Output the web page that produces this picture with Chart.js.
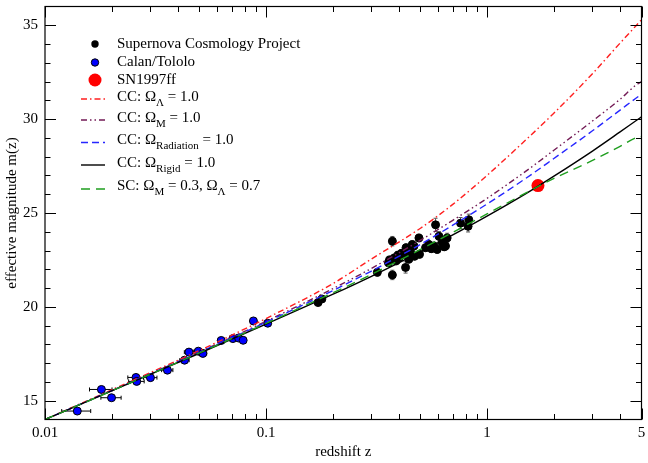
<!DOCTYPE html>
<html>
<head>
<meta charset="utf-8">
<script src="https://cdn.jsdelivr.net/npm/chart.js@4.4.0/dist/chart.umd.min.js"></script>
<style>
  html, body { margin: 0; padding: 0; background: #fff; }
</style>
</head>
<body>
<canvas id="chart" width="648" height="463"></canvas>
<script>
// redshift sampling of the model curves
const curveZ = [0.01, 0.02, 0.05, 0.1, 0.2, 0.3, 0.5, 0.7, 1, 1.5, 2, 3, 4, 4.7, 5];
const ccLambda = [14.0, 15.58, 17.68, 19.38, 21.23, 22.55, 24.19, 25.46, 27.0, 28.9, 30.3, 32.42, 34.05, 34.95, 35.3];
const ccMatter = [14.0, 15.53, 17.6, 19.23, 20.96, 22.05, 23.55, 24.61, 25.78, 27.23, 28.33, 29.9, 31.06, 31.8, 32.0];
const ccRadiation = [14.0, 15.53, 17.58, 19.18, 20.86, 21.91, 23.33, 24.35, 25.48, 26.85, 27.89, 29.38, 30.48, 31.1, 31.33];
const ccRigid = [14.0, 15.52, 17.53, 19.08, 20.66, 21.63, 22.93, 23.83, 24.83, 26.03, 26.95, 28.3, 29.32, 29.9, 30.12];
const scModel = [14.0, 15.52, 17.55, 19.12, 20.74, 21.73, 23.06, 23.97, 24.95, 26.07, 26.83, 27.8, 28.55, 29.0, 29.08];

// Supernova Cosmology Project
const scpZ = [0.172, 0.179, 0.319, 0.358, 0.362, 0.373, 0.373, 0.380, 0.388, 0.395, 0.400, 0.410,
  0.420, 0.428, 0.430, 0.443, 0.436, 0.450, 0.459, 0.467, 0.470, 0.492, 0.495, 0.527, 0.546,
  0.560, 0.575, 0.585, 0.595, 0.606, 0.627, 0.640, 0.649, 0.660, 0.759, 0.827, 0.821];
const scpM = [20.23, 20.42, 21.84, 22.35, 22.50, 23.50, 21.70, 22.60, 22.45, 22.75, 22.60, 22.85,
  22.80, 22.10, 23.15, 22.54, 23.06, 22.95, 23.32, 23.24, 22.70, 23.67, 22.80, 23.15, 23.32,
  23.10, 23.24, 24.37, 23.06, 23.76, 23.41, 23.20, 23.24, 23.67, 24.46, 24.64, 24.29];
const scpErr = [0.15, 0.15, 0.2, 0.2, 0.2, 0.25, 0.25, 0.2, 0.2, 0.2, 0.2, 0.2,
  0.2, 0.3, 0.2, 0.2, 0.2, 0.2, 0.2, 0.2, 0.2, 0.2, 0.2, 0.2, 0.2,
  0.2, 0.2, 0.35, 0.2, 0.25, 0.2, 0.2, 0.2, 0.25, 0.3, 0.3, 0.3];

// Calan/Tololo
const ctZ = [0.0140, 0.0180, 0.0200, 0.0258, 0.0260, 0.0300, 0.0358, 0.0428, 0.0448, 0.0494,
  0.0518, 0.0627, 0.0708, 0.0751, 0.0788, 0.0877, 0.1018];
const ctM = [14.45, 15.60, 15.16, 16.24, 16.03, 16.23, 16.63, 17.16, 17.59, 17.64,
  17.52, 18.21, 18.31, 18.34, 18.22, 19.25, 19.13];
const ctErrZ = [0.0021, 0.0021, 0.0021, 0.0021, 0.0021, 0.0021, 0.0021, 0.0021, 0.0021, 0.0021,
  0.0021, 0.0021, 0.0021, 0.0021, 0.0021, 0.0021, 0.0021];

// SN1997ff
const ffZ = [1.70];
const ffM = [26.46];

const xTicks = [0.01, 0.1, 1, 5];
const xMinor = [0.02, 0.03, 0.04, 0.05, 0.06, 0.07, 0.08, 0.09,
  0.2, 0.3, 0.4, 0.5, 0.6, 0.7, 0.8, 0.9, 2, 3, 4];
const yTicks = [15, 20, 25, 30, 35];
const yMinor = [16, 17, 18, 19, 21, 22, 23, 24, 26, 27, 28, 29, 31, 32, 33, 34];

const FONT = '"Liberation Serif", "DejaVu Serif", serif';

const colRed = '#ff1f1f', colPurple = '#731a55', colBlue = '#2626ff',
  colBlack = '#000000', colGreen = '#1f9e1f';

function pts(xs, ys) {
  return xs.map((x, i) => ({ x: x, y: ys[i] }));
}

function curve(data, color, dash) {
  return {
    type: 'line',
    data: pts(curveZ, data),
    borderColor: color,
    borderWidth: 1.4,
    borderDash: dash,
    pointRadius: 0,
    cubicInterpolationMode: 'monotone',
    fill: false
  };
}

function noPad(s) {
  s.paddingTop = 0;
  s.paddingBottom = 0;
  s.paddingLeft = 0;
  s.paddingRight = 0;
}

// error bars under the markers
const errorBars = {
  id: 'errorBars',
  beforeDatasetsDraw(chart) {
    const ctx = chart.ctx, xs = chart.scales.x, ys = chart.scales.y, a = chart.chartArea;
    ctx.save();
    ctx.beginPath();
    ctx.rect(a.left, a.top, a.right - a.left, a.bottom - a.top);
    ctx.clip();
    ctx.lineWidth = 1;
    ctx.strokeStyle = '#555';
    scpZ.forEach((z, i) => {
      const px = xs.getPixelForValue(z);
      const p1 = ys.getPixelForValue(scpM[i] - scpErr[i]);
      const p2 = ys.getPixelForValue(scpM[i] + scpErr[i]);
      ctx.beginPath();
      ctx.moveTo(px, p1); ctx.lineTo(px, p2);
      ctx.moveTo(px - 2, p1); ctx.lineTo(px + 2, p1);
      ctx.moveTo(px - 2, p2); ctx.lineTo(px + 2, p2);
      ctx.stroke();
    });
    ctx.strokeStyle = '#000';
    ctZ.forEach((z, i) => {
      const py = ys.getPixelForValue(ctM[i]);
      const p1 = xs.getPixelForValue(z - ctErrZ[i]);
      const p2 = xs.getPixelForValue(z + ctErrZ[i]);
      ctx.beginPath();
      ctx.moveTo(p1, py); ctx.lineTo(p2, py);
      ctx.moveTo(p1, py - 2); ctx.lineTo(p1, py + 2);
      ctx.moveTo(p2, py - 2); ctx.lineTo(p2, py + 2);
      ctx.stroke();
    });
    ctx.restore();
  }
};

// frame, inward ticks, axis titles, legend
const decorations = {
  id: 'decorations',
  afterDraw(chart) {
    const ctx = chart.ctx, xs = chart.scales.x, ys = chart.scales.y, a = chart.chartArea;
    ctx.save();
    ctx.strokeStyle = '#000';
    ctx.lineWidth = 1.2;
    ctx.strokeRect(a.left, a.top, a.right - a.left, a.bottom - a.top);

    ctx.lineWidth = 1;
    ctx.beginPath();
    const xt = (v, len) => {
      const px = Math.round(xs.getPixelForValue(v)) + 0.5;
      ctx.moveTo(px, a.bottom); ctx.lineTo(px, a.bottom - len);
      ctx.moveTo(px, a.top); ctx.lineTo(px, a.top + len);
    };
    const yt = (v, len) => {
      const py = Math.round(ys.getPixelForValue(v)) + 0.5;
      ctx.moveTo(a.left, py); ctx.lineTo(a.left + len, py);
      ctx.moveTo(a.right, py); ctx.lineTo(a.right - len, py);
    };
    xTicks.forEach(v => xt(v, 11));
    xMinor.forEach(v => xt(v, 5.5));
    yTicks.forEach(v => yt(v, 11));
    yMinor.forEach(v => yt(v, 5.5));
    ctx.stroke();

    // axis titles
    ctx.fillStyle = '#000';
    ctx.font = '15px ' + FONT;
    ctx.textAlign = 'center';
    ctx.textBaseline = 'middle';
    ctx.fillText('redshift z', (a.left + a.right) / 2, 452);
    ctx.save();
    ctx.translate(12, (a.top + a.bottom) / 2);
    ctx.rotate(-Math.PI / 2);
    ctx.fillText('effective magnitude m(z)', 0, 0);
    ctx.restore();

    // legend
    const tx = 117, mx = 95;
    const runs = (parts, x, y) => {
      ctx.textAlign = 'left';
      ctx.textBaseline = 'middle';
      parts.forEach(p => {
        if (p.sub) {
          ctx.font = '11px ' + FONT;
          ctx.fillText(p.t, x, y + 6);
        } else {
          ctx.font = '15px ' + FONT;
          ctx.fillText(p.t, x, y);
        }
        x += ctx.measureText(p.t).width;
      });
    };
    const dot = (y, r, fill, stroke) => {
      ctx.beginPath();
      ctx.arc(mx, y, r, 0, Math.PI * 2);
      ctx.fillStyle = fill;
      ctx.fill();
      if (stroke) { ctx.strokeStyle = stroke; ctx.lineWidth = 1; ctx.stroke(); }
      ctx.fillStyle = '#000';
    };
    const sample = (y, color, dash) => {
      ctx.beginPath();
      ctx.setLineDash(dash);
      ctx.strokeStyle = color;
      ctx.lineWidth = 1.4;
      ctx.moveTo(81, y); ctx.lineTo(105, y);
      ctx.stroke();
      ctx.setLineDash([]);
    };

    dot(44, 3.7, '#000');
    runs([{ t: 'Supernova Cosmology Project' }], tx, 44);
    dot(62.5, 3.7, '#0000ff', '#000');
    runs([{ t: 'Calan/Tololo' }], tx, 62.5);
    dot(80, 6.5, '#ff0000');
    runs([{ t: 'SN1997ff' }], tx, 80);

    sample(99, colRed, [6, 3, 1.5, 3]);
    runs([{ t: 'CC: \u03A9' }, { t: '\u039B', sub: true }, { t: ' = 1.0' }], tx, 97);
    sample(120, colPurple, [6, 3, 1.5, 3, 1.5, 3]);
    runs([{ t: 'CC: \u03A9' }, { t: 'M', sub: true }, { t: ' = 1.0' }], tx, 118.5);
    sample(142.5, colBlue, [7, 4]);
    runs([{ t: 'CC: \u03A9' }, { t: 'Radiation', sub: true }, { t: ' = 1.0' }], tx, 140.5);
    sample(165, colBlack, []);
    runs([{ t: 'CC: \u03A9' }, { t: 'Rigid', sub: true }, { t: ' = 1.0' }], tx, 163);
    sample(189, colGreen, [9, 6]);
    runs([{ t: 'SC: \u03A9' }, { t: 'M', sub: true }, { t: ' = 0.3, \u03A9' }, { t: '\u039B', sub: true }, { t: ' = 0.7' }], tx, 186.5);

    ctx.restore();
  }
};

new Chart(document.getElementById('chart'), {
  type: 'scatter',
  data: {
    datasets: [
      curve(scModel, colGreen, [9, 6]),
      curve(ccRigid, colBlack, []),
      curve(ccRadiation, colBlue, [7, 4]),
      curve(ccMatter, colPurple, [6, 3, 1.5, 3, 1.5, 3]),
      curve(ccLambda, colRed, [6, 3, 1.5, 3]),
      {
        data: pts(ffZ, ffM),
        pointRadius: 6.5,
        pointBackgroundColor: '#ff0000',
        pointBorderWidth: 0,
        pointBorderColor: '#ff0000'
      },
      {
        data: pts(ctZ, ctM),
        pointRadius: 4,
        pointBackgroundColor: '#0000ff',
        pointBorderColor: '#000',
        pointBorderWidth: 1
      },
      {
        data: pts(scpZ, scpM),
        pointRadius: 4,
        pointBackgroundColor: '#000',
        pointBorderColor: '#000',
        pointBorderWidth: 1
      }
    ]
  },
  options: {
    responsive: false,
    animation: false,
    devicePixelRatio: 1,
    layout: { padding: { top: 2, right: 5, left: 0, bottom: 0 } },
    plugins: {
      legend: { display: false },
      tooltip: { enabled: false }
    },
    scales: {
      x: {
        type: 'logarithmic',
        min: 0.01,
        max: 5,
        grid: { display: false, drawTicks: false },
        border: { display: false },
        afterBuildTicks: s => { s.ticks = xTicks.map(v => ({ value: v })); },
        afterFit: s => { s.height = 43.5; noPad(s); },
        ticks: {
          autoSkip: false,
          maxRotation: 0,
          padding: 5,
          color: '#000',
          font: { family: FONT, size: 15 },
          callback: v => String(v)
        }
      },
      y: {
        min: 14,
        max: 36,
        grid: { display: false, drawTicks: false },
        border: { display: false },
        afterBuildTicks: s => { s.ticks = yTicks.map(v => ({ value: v })); },
        afterFit: s => { s.width = 45; noPad(s); },
        ticks: {
          padding: 7,
          color: '#000',
          font: { family: FONT, size: 15 },
          callback: v => String(v)
        }
      }
    }
  },
  plugins: [errorBars, decorations]
});
</script>
</body>
</html>
